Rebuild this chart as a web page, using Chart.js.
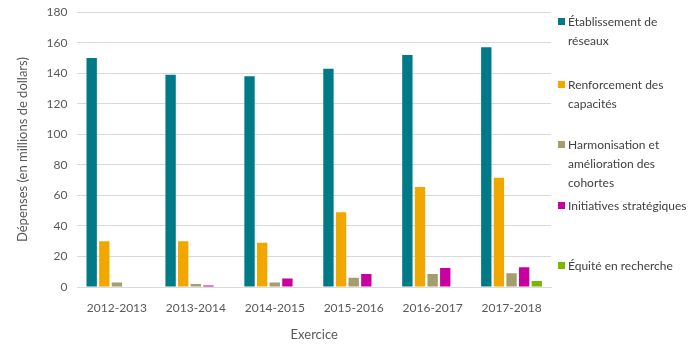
<!DOCTYPE html>
<html>
<head>
<meta charset="utf-8">
<script src="https://cdn.jsdelivr.net/npm/chart.js@4"></script>
<style>
  body { margin: 0; background: #fff; }
  #wrap { position: relative; width: 700px; height: 350px; overflow: hidden; }
  #chart { position: absolute; left: 0; top: -5px; }
  #legend { position: absolute; left: 557px; top: 0; width: 140px; font-family: Lato, sans-serif; font-size: 12px; color: #404040; }
  .item { position: absolute; left: 0; padding-left: 11px; line-height: 19px; }
  .sw { position: absolute; left: 1px; top: 6px; width: 7px; height: 7px; }
</style>
</head>
<body>
<div id="wrap">
  <canvas id="chart" width="700" height="355"></canvas>
  <div id="legend"></div>
</div>
<script>
// Dépenses par exercice (millions de dollars)
const years = ['2012-2013', '2013-2014', '2014-2015', '2015-2016', '2016-2017', '2017-2018'];
const seriesNames = ['Établissement de réseaux', 'Renforcement des capacités', 'Harmonisation et amélioration des cohortes', 'Initiatives stratégiques', 'Équité en recherche'];
const reseaux = [150, 139, 138, 143, 152, 157];
const capacites = [30, 30, 29, 49, 65.5, 71.5];
const cohortes = [3, 2, 3, 6, 8.5, 9];
const strategiques = [0, 1, 5.5, 8.5, 12.5, 13];
const equite = [0, 0, 0, 0, 0, 4];
const yTicks = [0, 20, 40, 60, 80, 100, 120, 140, 160, 180];

const colors = ['#007A87', '#F0A800', '#A59D6E', '#C800A0', '#7AB800'];
// legend layout: wrapped lines as in the original
const legendLines = [
    ['Établissement de', 'réseaux'],
    ['Renforcement des', 'capacités'],
    ['Harmonisation et', 'amélioration des', 'cohortes'],
    ['Initiatives stratégiques'],
    ['Équité en recherche']
];
const legendTops = [12, 75, 135, 196, 256];

const allData = [reseaux, capacites, cohortes, strategiques, equite];

new Chart(document.getElementById('chart'), {
    type: 'bar',
    data: {
        labels: years,
        datasets: seriesNames.map((name, i) => ({
            label: name,
            data: allData[i],
            backgroundColor: colors[i],
            borderWidth: 0,
            categoryPercentage: 0.8,
            barPercentage: 0.82
        }))
    },
    options: {
        responsive: false,
        animation: false,
        layout: { padding: { top: 0, right: 149, left: 11, bottom: 3 } },
        plugins: {
            legend: { display: false },
            tooltip: { enabled: false }
        },
        scales: {
            x: {
                grid: { display: false },
                border: { color: '#d9d9d9' },
                ticks: { color: '#595959', font: { family: 'Lato', size: 12 }, padding: 6 },
                title: { display: true, text: 'Exercice', color: '#595959', font: { family: 'Lato', size: 13 }, padding: { top: 6, bottom: 4 } }
            },
            y: {
                min: 0,
                max: 180,
                afterBuildTicks: axis => { axis.ticks = yTicks.map(v => ({ value: v })); },
                grid: { color: '#d9d9d9', drawTicks: false },
                border: { display: false },
                ticks: { color: '#595959', font: { family: 'Lato', size: 12 }, padding: 10 },
                title: { display: true, text: 'Dépenses (en millions de dollars)', color: '#595959', font: { family: 'Lato', size: 13 }, padding: { bottom: 6 } }
            }
        }
    }
});

const legend = document.getElementById('legend');
legendLines.forEach((lines, i) => {
    const div = document.createElement('div');
    div.className = 'item';
    div.style.top = legendTops[i] + 'px';
    div.innerHTML = '<span class="sw" style="background:' + colors[i] + '"></span>' + lines.join('<br>');
    legend.appendChild(div);
});
</script>
</body>
</html>
